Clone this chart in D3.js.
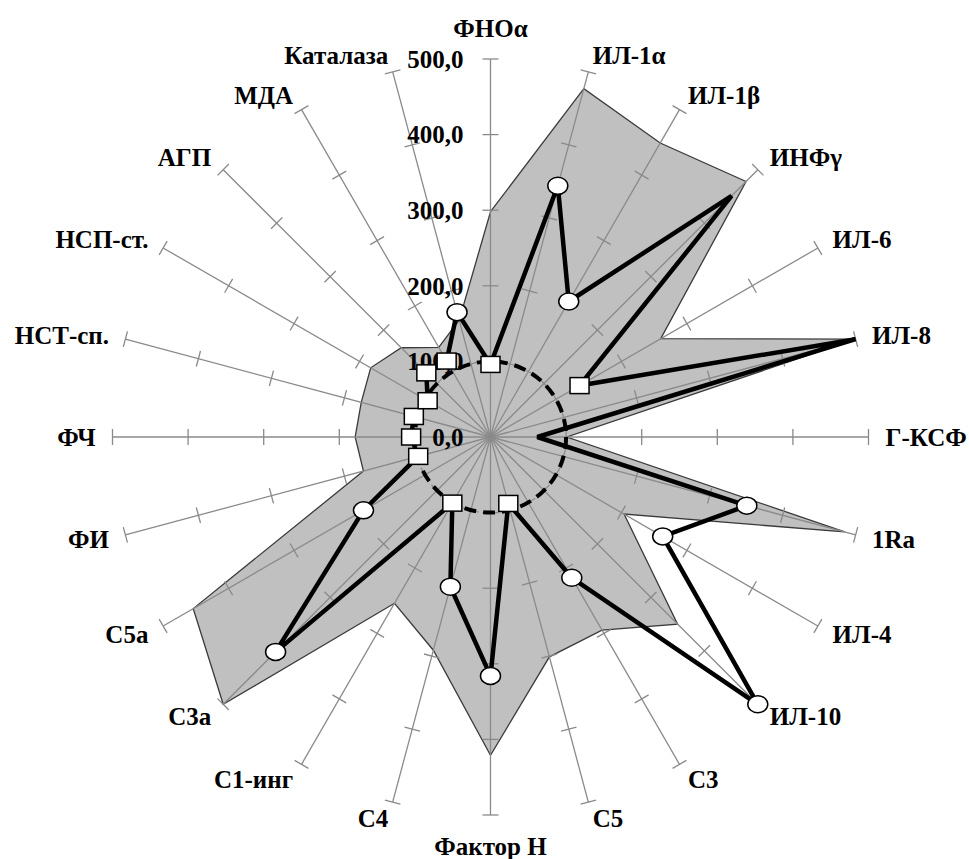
<!DOCTYPE html>
<html>
<head>
<meta charset="utf-8">
<script src="https://cdn.jsdelivr.net/npm/d3@7"></script>
<style>
  html, body { margin: 0; padding: 0; background: #fff; }
  svg { display: block; }
</style>
</head>
<body>
<div id="chart"></div>
<script>
// Axis categories, clockwise from the top
const categories = ['ФНОα', 'ИЛ-1α', 'ИЛ-1β', 'ИНФγ', 'ИЛ-6', 'ИЛ-8', 'Г-КСФ', '1Ra', 'ИЛ-4', 'ИЛ-10',
    'С3', 'С5', 'Фактор Н', 'С4', 'С1-инг', 'С3а', 'С5а', 'ФИ', 'ФЧ', 'НСТ-сп.', 'НСП-ст.', 'АГП', 'МДА', 'Каталаза'];

// Grey filled area (upper values)
const areaValues = [298, 477, 449, 478, 260, 500, 101, 485, 204, 350,
    295, 301, 421, 292, 254, 500, 454, 174, 179, 177, 183, 167, 137, 160];

// Thick black line
const lineValues = [96, 344, 207, 451, 136, 500, 62, 351, 263, 500,
    215, 91, 316, 205, 101, 402, 194, 99, 105, 105, 96, 120, 116, 171];

// Marker type per point: s = square, c = circle, '' = none
const lineMarkers = ['s', 'c', 'c', '', 's', '', '', 'c', 'c', 'c',
    'c', 's', 'c', 'c', 's', 'c', 'c', 's', 's', 's', 's', 's', 's', 'c'];

// Reference level (dashed ring)
const refValue = 100;

const tickValues = [0, 100, 200, 300, 400, 500];
const tickLabels = ['0,0', '100,0', '200,0', '300,0', '400,0', '500,0'];

const W = 969, H = 859;
const cx = 490.5, cy = 437;
const R = 378;
const FONT = "'Liberation Serif', 'Times New Roman', 'DejaVu Serif', serif";

const svg = d3.select('#chart').append('svg')
    .attr('width', W)
    .attr('height', H);

const g = svg.append('g').attr('transform', `translate(${cx},${cy})`);

const r = d3.scaleLinear().domain([0, 500]).range([0, R]);
const angle = d3.scaleLinear().domain([0, categories.length]).range([0, 2 * Math.PI]);

const pt = (i, v) => {
    const a = angle(i);
    return [r(v) * Math.sin(a), -r(v) * Math.cos(a)];
};

const radial = d3.lineRadial()
    .angle((d, i) => angle(i))
    .radius(d => r(d))
    .curve(d3.curveLinearClosed);

// Grey area
g.append('path')
    .attr('d', radial(areaValues))
    .attr('fill', '#c0c0c0')
    .attr('stroke', '#3a3a3a')
    .attr('stroke-width', 1.3);

// Radial axes with cross ticks
const axes = g.append('g').attr('class', 'axes');
categories.forEach((c, i) => {
    const a = angle(i);
    const [x2, y2] = pt(i, 500);
    axes.append('line')
        .attr('x1', 0).attr('y1', 0)
        .attr('x2', x2).attr('y2', y2)
        .attr('stroke', '#8a8a8a')
        .attr('stroke-width', 1.3);

    const px = Math.cos(a), py = Math.sin(a); // perpendicular
    tickValues.slice(1).forEach(v => {
        const [tx, ty] = pt(i, v);
        axes.append('line')
            .attr('x1', tx - 8 * px).attr('y1', ty - 8 * py)
            .attr('x2', tx + 8 * px).attr('y2', ty + 8 * py)
            .attr('stroke', '#8a8a8a')
            .attr('stroke-width', 1.3);
    });
});

// Value labels along the top axis
g.selectAll('.tick-label')
    .data(tickValues)
    .enter().append('text')
    .attr('class', 'tick-label')
    .attr('x', -27)
    .attr('y', d => -r(d))
    .attr('dy', '0.35em')
    .attr('text-anchor', 'end')
    .attr('font-family', FONT)
    .attr('font-weight', 'bold')
    .attr('font-size', 25)
    .attr('fill', '#000')
    .text((d, i) => tickLabels[i]);

// Dashed reference ring
g.append('circle')
    .attr('r', r(refValue))
    .attr('fill', 'none')
    .attr('stroke', '#000')
    .attr('stroke-width', 4)
    .attr('stroke-dasharray', '12 7');

// Black line
g.append('path')
    .attr('d', radial(lineValues))
    .attr('fill', 'none')
    .attr('stroke', '#000')
    .attr('stroke-width', 4.5)
    .attr('stroke-linejoin', 'miter')
    .attr('stroke-miterlimit', 3);

// Markers
const markerData = lineValues.map((v, i) => ({ v, i, m: lineMarkers[i] }));

g.selectAll('.sq')
    .data(markerData.filter(d => d.m === 's'))
    .enter().append('rect')
    .attr('class', 'sq')
    .attr('x', d => pt(d.i, d.v)[0] - 9.5)
    .attr('y', d => pt(d.i, d.v)[1] - 8)
    .attr('width', 19)
    .attr('height', 16)
    .attr('fill', '#fff')
    .attr('stroke', '#000')
    .attr('stroke-width', 1.5);

g.selectAll('.cir')
    .data(markerData.filter(d => d.m === 'c'))
    .enter().append('ellipse')
    .attr('class', 'cir')
    .attr('cx', d => pt(d.i, d.v)[0])
    .attr('cy', d => pt(d.i, d.v)[1])
    .attr('rx', 10)
    .attr('ry', 8.5)
    .attr('fill', '#fff')
    .attr('stroke', '#000')
    .attr('stroke-width', 1.5);

// Category labels
g.selectAll('.cat')
    .data(categories)
    .enter().append('text')
    .attr('class', 'cat')
    .each(function(d, i) {
        const a = angle(i);
        const s = Math.sin(a), c = Math.cos(a);
        const vertical = Math.abs(s) < 0.01;
        const dist = R + (vertical ? 31 : 17);
        d3.select(this)
            .attr('x', dist * s)
            .attr('y', -dist * c)
            .attr('dy', '0.35em')
            .attr('text-anchor', vertical ? 'middle' : (s > 0 ? 'start' : 'end'));
    })
    .attr('font-family', FONT)
    .attr('font-weight', 'bold')
    .attr('font-size', 25)
    .attr('fill', '#000')
    .text(d => d);
</script>
</body>
</html>
